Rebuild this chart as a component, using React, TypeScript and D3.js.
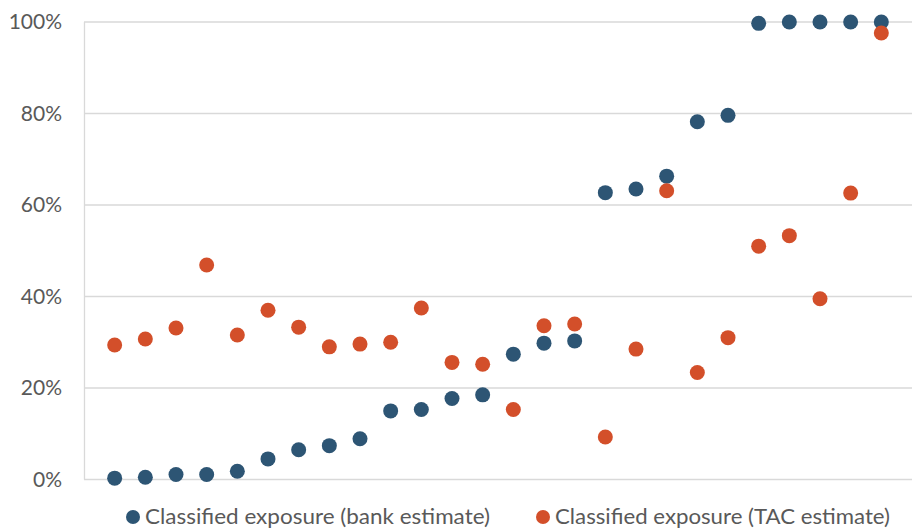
import React, { useEffect, useRef } from "react";
import * as d3 from "d3";

const positions = d3.range(1, 27);
const bankEstimate = [
  0.3, 0.5, 1.1, 1.1, 1.8, 4.5, 6.5, 7.4, 8.9, 15.0, 15.3, 17.7, 18.5, 27.4, 29.8, 30.3,
  62.7, 63.5, 66.3, 78.2, 79.6, 99.7, 100, 100, 100, 100,
];
const tacEstimate = [
  29.4, 30.7, 33.1, 46.9, 31.6, 37.0, 33.3, 29.0, 29.6, 30.0, 37.5, 25.6, 25.2, 15.3, 33.6, 34.0,
  9.3, 28.5, 63.1, 23.4, 31.0, 51.0, 53.3, 39.5, 62.6, 97.6,
];
const yTicks = [0, 20, 40, 60, 80, 100];
const seriesNames = ["Classified exposure (bank estimate)", "Classified exposure (TAC estimate)"];
const colors = ["#2D5574", "#D34F2A"];

function ScatterChart() {
  const svgRef = useRef(null);

  useEffect(() => {
    const svg = d3.select(svgRef.current);
    svg.selectAll("*").remove();
    const font = "Lato, 'Open Sans', sans-serif";

    const x = d3.scaleLinear().domain([0, 27]).range([84, 912]);
    const y = d3.scaleLinear().domain([0, 100]).range([479.5, 22]);

    // gridlines
    svg
      .append("g")
      .selectAll("line")
      .data(yTicks)
      .enter()
      .append("line")
      .attr("x1", 84)
      .attr("x2", 912)
      .attr("y1", (d) => y(d))
      .attr("y2", (d) => y(d))
      .attr("stroke", "#D9D9D9")
      .attr("stroke-width", 1.3);

    svg
      .append("line")
      .attr("x1", 84.5)
      .attr("x2", 84.5)
      .attr("y1", y(100))
      .attr("y2", y(0))
      .attr("stroke", "#D9D9D9")
      .attr("stroke-width", 1.3);

    svg
      .append("g")
      .selectAll("text")
      .data(yTicks)
      .enter()
      .append("text")
      .attr("x", 62)
      .attr("y", (d) => y(d))
      .attr("dy", "0.35em")
      .attr("text-anchor", "end")
      .attr("font-family", font)
      .attr("font-size", 21)
      .attr("fill", "#595959")
      .text((d) => `${d}%`);

    [bankEstimate, tacEstimate].forEach((values, i) => {
      svg
        .append("g")
        .selectAll("circle")
        .data(values)
        .enter()
        .append("circle")
        .attr("cx", (d, j) => x(positions[j]))
        .attr("cy", (d) => y(d))
        .attr("r", 7.5)
        .attr("fill", colors[i]);
    });

    // legend
    const legendX = [133, 543];
    const legendW = [345, 335];
    seriesNames.forEach((name, i) => {
      const g = svg.append("g").attr("transform", `translate(${legendX[i]},517)`);
      g.append("circle").attr("r", 7).attr("fill", colors[i]);
      g.append("text")
        .attr("x", 12)
        .attr("dy", "0.36em")
        .attr("font-family", font)
        .attr("font-size", 20.5)
        .attr("fill", "#595959")
        .attr("textLength", legendW[i])
        .attr("lengthAdjust", "spacingAndGlyphs")
        .text(name);
    });
  }, []);

  return <svg ref={svgRef} width="912" height="530"></svg>;
}

export default function App() {
  return (
    <div style={{ position: "fixed", left: 0, top: 0, background: "#fff" }}>
      <ScatterChart />
    </div>
  );
}
